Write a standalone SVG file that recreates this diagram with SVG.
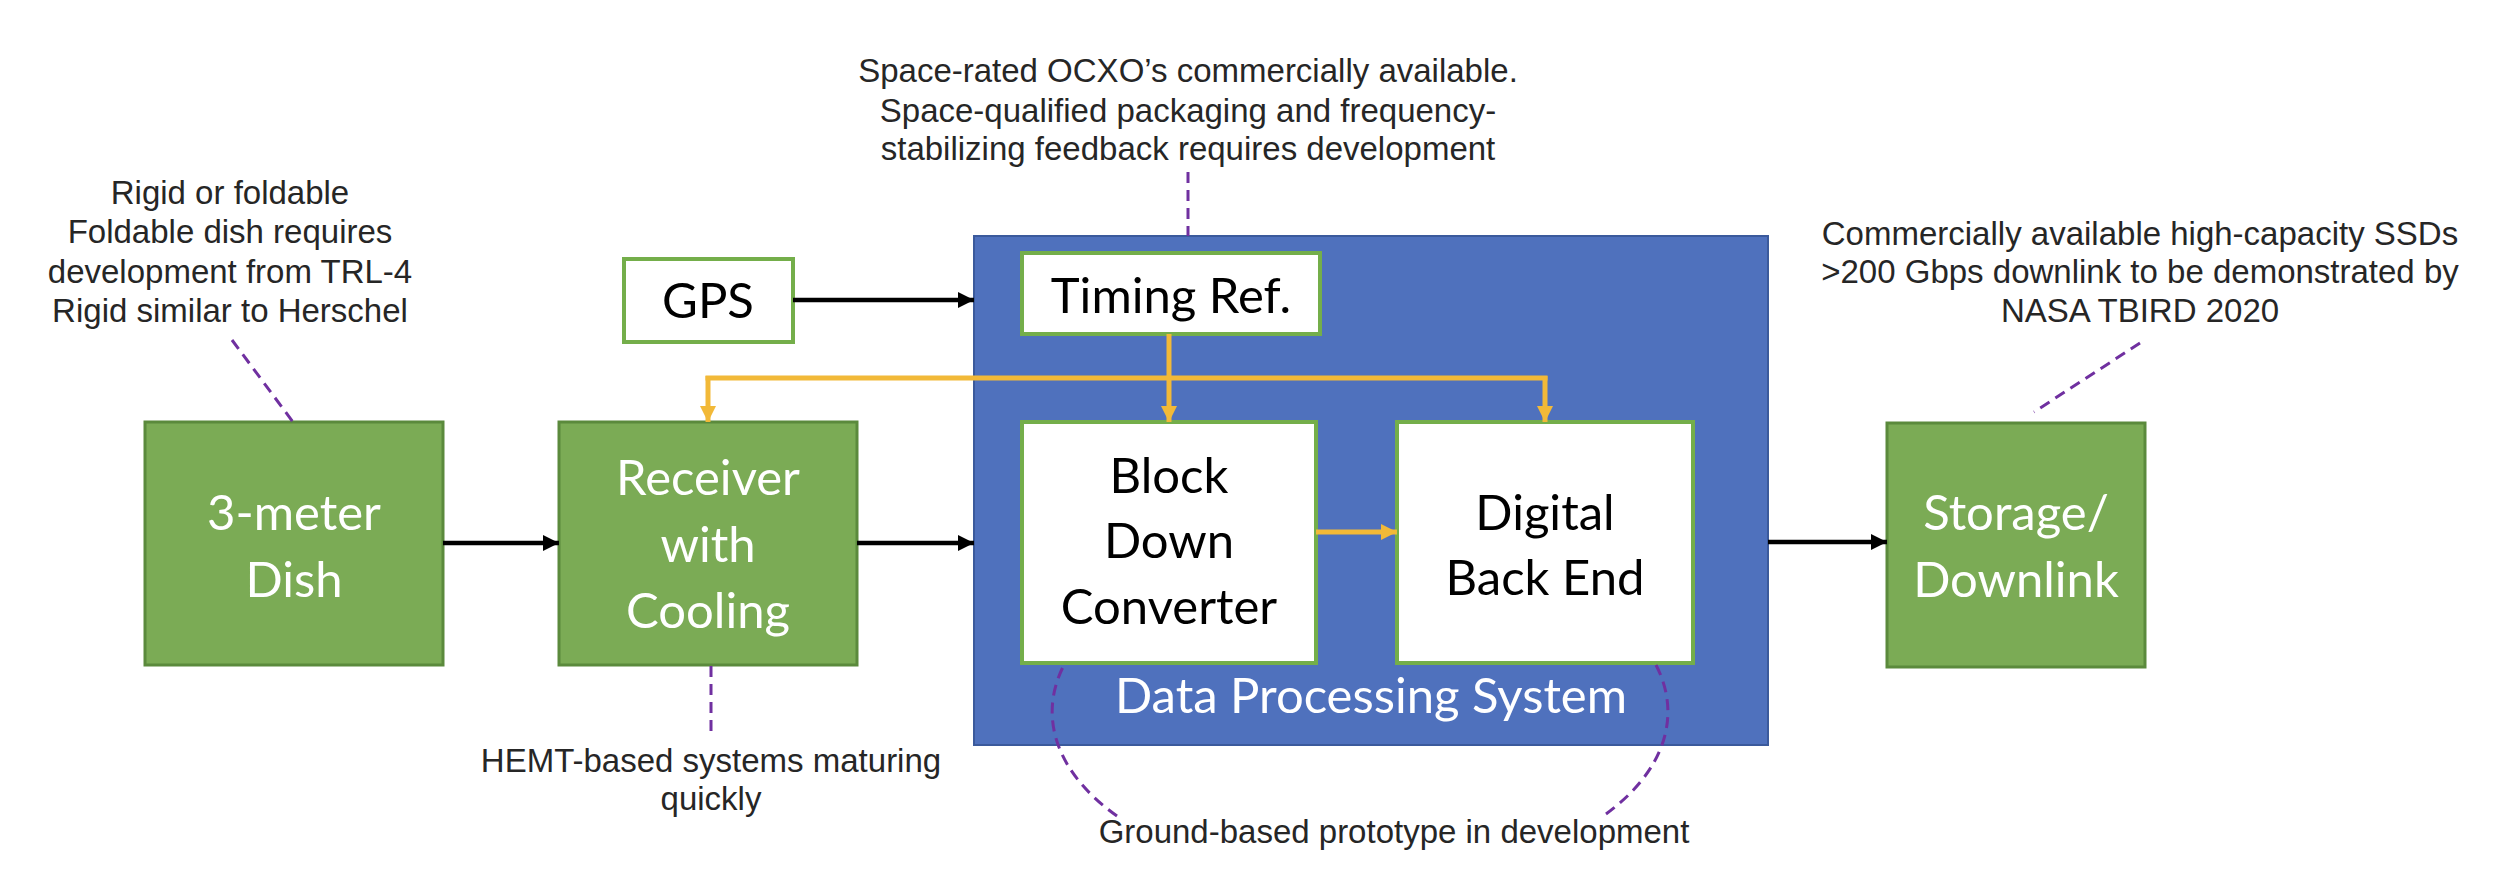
<svg xmlns="http://www.w3.org/2000/svg" width="2500" height="884" viewBox="0 0 2500 884">
  <style>
    .gbox { fill: #7BAB55; stroke: #5B8A3C; stroke-width: 3; }
    .wbox { fill: #FFFFFF; stroke: #74AE4A; stroke-width: 4; }
    .dps { fill: #4F71BD; stroke: #3B5A9C; stroke-width: 2; }
    .wt { font-family: Lato, "Open Sans", sans-serif; font-size: 49px; fill: #FFFFFF; text-anchor: middle; }
    .bt { font-family: Lato, "Open Sans", sans-serif; font-size: 49px; fill: #000000; text-anchor: middle; }
    .note { font-family: "Liberation Sans", Arial, sans-serif; font-size: 33px; fill: #262626; text-anchor: middle; }
    .blk { stroke: #000000; stroke-width: 4.5; fill: none; }
    .yel { stroke: #F2B938; stroke-width: 5; fill: none; }
    .dash { stroke: #7030A0; stroke-width: 3; stroke-dasharray: 11 7; fill: none; }
  </style>
  <defs>
    <marker id="ab" markerUnits="userSpaceOnUse" markerWidth="18" markerHeight="18" refX="16" refY="9" orient="auto">
      <path d="M0,1 L16,9 L0,17 z" fill="#000000"/>
    </marker>
    <marker id="ay" markerUnits="userSpaceOnUse" markerWidth="18" markerHeight="18" refX="16" refY="9" orient="auto">
      <path d="M0,1 L16,9 L0,17 z" fill="#F2B938"/>
    </marker>
  </defs>

  <rect width="2500" height="884" fill="#FFFFFF"/>

  <g id="dps">
    <rect class="dps" x="974" y="236" width="794" height="509"/>
    <text class="wt" x="1371" y="713" font-size="48">Data Processing System</text>
  </g>

  <g id="dish">
    <rect class="gbox" x="145" y="422" width="298" height="243"/>
    <text class="wt" x="294" y="530">3-meter</text>
    <text class="wt" x="294" y="597">Dish</text>
  </g>

  <g id="receiver">
    <rect class="gbox" x="559" y="422" width="298" height="243"/>
    <text class="wt" x="708" y="495">Receiver</text>
    <text class="wt" x="708" y="562">with</text>
    <text class="wt" x="708" y="628">Cooling</text>
  </g>

  <g id="gps">
    <rect class="wbox" x="624" y="259" width="169" height="83"/>
    <text class="bt" x="708" y="318">GPS</text>
  </g>

  <g id="timing">
    <rect class="wbox" x="1022" y="253" width="298" height="81"/>
    <text class="bt" x="1171" y="313">Timing Ref.</text>
  </g>

  <g id="bdc">
    <rect class="wbox" x="1022" y="422" width="294" height="241"/>
    <text class="bt" x="1169" y="493">Block</text>
    <text class="bt" x="1169" y="558">Down</text>
    <text class="bt" x="1169" y="624">Converter</text>
  </g>

  <g id="dbe">
    <rect class="wbox" x="1397" y="422" width="296" height="241"/>
    <text class="bt" x="1545" y="530">Digital</text>
    <text class="bt" x="1545" y="595">Back End</text>
  </g>

  <g id="storage">
    <rect class="gbox" x="1887" y="423" width="258" height="244"/>
    <text class="wt" x="2016" y="530">Storage/</text>
    <text class="wt" x="2016" y="597">Downlink</text>
  </g>

  <g id="connectors">
    <line class="blk" x1="443" y1="543" x2="559" y2="543" marker-end="url(#ab)"/>
    <line class="blk" x1="857" y1="543" x2="974" y2="543" marker-end="url(#ab)"/>
    <line class="blk" x1="793" y1="300" x2="974" y2="300" marker-end="url(#ab)"/>
    <line class="blk" x1="1768" y1="542" x2="1887" y2="542" marker-end="url(#ab)"/>
    <line class="yel" x1="705.5" y1="378" x2="1547.5" y2="378"/>
    <line class="yel" x1="708" y1="376" x2="708" y2="422" marker-end="url(#ay)"/>
    <line class="yel" x1="1545" y1="376" x2="1545" y2="422" marker-end="url(#ay)"/>
    <line class="yel" x1="1169" y1="334" x2="1169" y2="422" marker-end="url(#ay)"/>
    <line class="yel" x1="1316" y1="532" x2="1397" y2="532" marker-end="url(#ay)"/>
  </g>

  <g id="annotations">
    <line class="dash" x1="232" y1="340" x2="293" y2="422"/>
    <line class="dash" x1="1188" y1="172" x2="1188" y2="236"/>
    <line class="dash" x1="711" y1="666" x2="711" y2="733"/>
    <line class="dash" x1="2140" y1="343" x2="2034" y2="412"/>
    <path class="dash" d="M1062.5,668 A308,170 0 0 0 1117,816"/>
    <path class="dash" d="M1656,665 A308,170 0 0 1 1606,814"/>

    <g id="note-dish">
      <text class="note" x="230" y="204">Rigid or foldable</text>
      <text class="note" x="230" y="243">Foldable dish requires</text>
      <text class="note" x="230" y="283">development from TRL-4</text>
      <text class="note" x="230" y="322">Rigid similar to Herschel</text>
    </g>
    <g id="note-timing">
      <text class="note" x="1188" y="82">Space-rated OCXO’s commercially available.</text>
      <text class="note" x="1188" y="122">Space-qualified packaging and frequency-</text>
      <text class="note" x="1188" y="160">stabilizing feedback requires development</text>
    </g>
    <g id="note-storage">
      <text class="note" x="2140" y="245">Commercially available high-capacity SSDs</text>
      <text class="note" x="2140" y="283">&gt;200 Gbps downlink to be demonstrated by</text>
      <text class="note" x="2140" y="322">NASA TBIRD 2020</text>
    </g>
    <g id="note-receiver">
      <text class="note" x="711" y="772">HEMT-based systems maturing</text>
      <text class="note" x="711" y="810">quickly</text>
    </g>
    <g id="note-dps">
      <text class="note" x="1394" y="843">Ground-based prototype in development</text>
    </g>
  </g>
</svg>
